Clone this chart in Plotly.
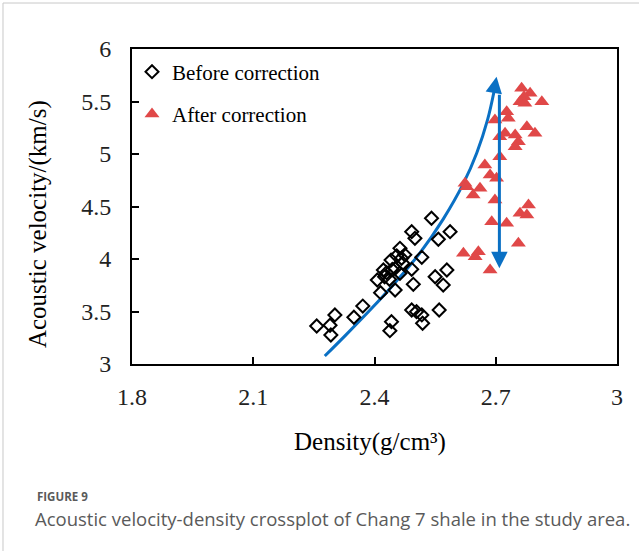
import plotly.graph_objects as go

# ---------------- data ----------------
before_density = [2.257, 2.290, 2.302, 2.292, 2.349, 2.371, 2.415, 2.407, 2.422, 2.441,
                  2.451, 2.463, 2.467, 2.463, 2.451, 2.437, 2.492, 2.500, 2.517, 2.492,
                  2.496, 2.541, 2.558, 2.587, 2.550, 2.579, 2.570, 2.560, 2.492, 2.504,
                  2.517, 2.519, 2.442, 2.438, 2.430, 2.425, 2.455, 2.470, 2.444, 2.475]
before_velocity = [3.362, 3.369, 3.467, 3.276, 3.445, 3.552, 3.679, 3.800, 3.895, 3.990,
                   3.911, 4.102, 4.007, 3.864, 3.705, 3.807, 4.260, 4.197, 4.016, 3.902,
                   3.759, 4.388, 4.188, 4.260, 3.831, 3.895, 3.752, 3.514, 3.514, 3.498,
                   3.467, 3.388, 3.403, 3.317, 3.870, 3.830, 4.030, 3.960, 3.900, 4.040]

after_density = [2.764, 2.785, 2.770, 2.760, 2.814, 2.772, 2.727, 2.698, 2.731, 2.777,
                 2.797, 2.723, 2.748, 2.756, 2.748, 2.710, 2.710, 2.673, 2.686, 2.702,
                 2.624, 2.628, 2.661, 2.644, 2.698, 2.781, 2.760, 2.777, 2.690, 2.727,
                 2.756, 2.620, 2.649, 2.657, 2.686]
after_velocity = [5.626, 5.578, 5.546, 5.498, 5.498, 5.483, 5.403, 5.324, 5.340, 5.260,
                  5.197, 5.197, 5.181, 5.117, 5.070, 5.165, 4.974, 4.895, 4.800, 4.769,
                  4.721, 4.689, 4.673, 4.610, 4.562, 4.514, 4.435, 4.419, 4.355, 4.340,
                  4.150, 4.054, 4.022, 4.070, 3.895]

# trend curve (blue arrow) and correction arrow
curve_density = [2.277, 2.330, 2.389, 2.450, 2.513, 2.570, 2.620, 2.653, 2.680, 2.696]
curve_velocity = [3.076, 3.280, 3.514, 3.770, 4.060, 4.380, 4.720, 5.010, 5.330, 5.600]
curve_tip = (2.702, 5.736)
shift_arrow_density = 2.709
shift_arrow_from = 5.578
shift_arrow_to = 3.911

x_tickvals = [1.8, 2.1, 2.4, 2.7, 3.0]
x_ticktext = ["1.8", "2.1", "2.4", "2.7", "3"]
y_tickvals = [3, 3.5, 4, 4.5, 5, 5.5, 6]
y_ticktext = ["3", "3.5", "4", "4.5", "5", "5.5", "6"]

labels = ["Before correction", "After correction"]
x_title = "Density(g/cm³)"
y_title = "Acoustic velocity/(km/s)"
fig_label = "FIGURE 9"
caption = "Acoustic velocity-density crossplot of Chang 7 shale in the study area."

# ---------------- style ----------------
BLUE = "#0A70C4"
RED = "#E04848"
SERIF = "Liberation Serif"

fig = go.Figure()

fig.add_trace(go.Scatter(
    x=curve_density, y=curve_velocity, mode="lines",
    line=dict(color=BLUE, width=3, shape="spline", smoothing=1.0),
    showlegend=False, hoverinfo="skip"))

fig.add_trace(go.Scatter(
    x=before_density, y=before_velocity, mode="markers", name=labels[0],
    marker=dict(symbol="diamond-open", size=10, color="black", line=dict(width=2, color="black")),
    legendgroup="a"))

fig.add_trace(go.Scatter(
    x=after_density, y=after_velocity, mode="markers", name=labels[1],
    marker=dict(symbol="triangle-up", size=13, color=RED, line=dict(width=0)),
    legendgroup="b"))

# arrowheads
fig.add_annotation(x=curve_tip[0], y=curve_tip[1], ax=curve_density[-1], ay=curve_velocity[-1],
                   xref="x", yref="y", axref="x", ayref="y", text="", showarrow=True,
                   arrowhead=2, arrowsize=1.1, arrowwidth=3, arrowcolor=BLUE)
fig.add_annotation(x=shift_arrow_density, y=shift_arrow_to, ax=shift_arrow_density, ay=shift_arrow_from,
                   xref="x", yref="y", axref="x", ayref="y", text="", showarrow=True,
                   arrowhead=2, arrowsize=1.1, arrowwidth=3, arrowcolor=BLUE)

# axis titles
fig.add_annotation(text=x_title, xref="paper", yref="paper", x=0.491, y=-0.248,
                   showarrow=False, font=dict(family=SERIF, size=25, color="black"),
                   xanchor="center", yanchor="middle")
fig.add_annotation(text=y_title, xref="paper", yref="paper", x=-0.194, y=0.444, textangle=-90,
                   showarrow=False, font=dict(family=SERIF, size=25, color="black"),
                   xanchor="center", yanchor="middle")

# caption
fig.add_annotation(text="<b>" + fig_label + "</b>", xref="paper", yref="paper", x=-0.201, y=-0.420,
                   showarrow=False, font=dict(family="Open Sans", size=11.5, color="#5a5a5a"),
                   xanchor="left", yanchor="middle")
fig.add_annotation(text=caption, xref="paper", yref="paper", x=-0.205, y=-0.490,
                   showarrow=False, font=dict(family="Open Sans", size=18.5, color="#5a5a5a"),
                   xanchor="left", yanchor="middle")

# card border (left + top)
fig.add_shape(type="line", xref="paper", yref="paper", x0=-0.266, x1=1.2, y0=1.146, y1=1.146,
              line=dict(color="#C8C8C8", width=1))
fig.add_shape(type="line", xref="paper", yref="paper", x0=-0.266, x1=-0.266, y0=1.146, y1=-0.7,
              line=dict(color="#C8C8C8", width=1))

axis_common = dict(showgrid=False, zeroline=False, showline=True, linecolor="black", linewidth=2,
                   mirror=True, ticks="inside", ticklen=7, tickwidth=1.5, tickcolor="black",
                   tickfont=dict(family=SERIF, size=24, color="#222222"))

fig.update_xaxes(range=[1.8, 3.0], tickvals=x_tickvals, ticktext=x_ticktext,
                 ticklabelstandoff=10, **axis_common)
fig.update_yaxes(range=[3, 6], tickvals=y_tickvals, ticktext=y_ticktext,
                 ticklabelstandoff=14, **axis_common)

fig.update_layout(
    width=639, height=551,
    margin=dict(l=132, r=22, t=49, b=187),
    plot_bgcolor="white", paper_bgcolor="white",
    legend=dict(x=0.0, y=0.992, xanchor="left", yanchor="top", bgcolor="rgba(0,0,0,0)",
                font=dict(family=SERIF, size=21, color="black"), tracegroupgap=12,
                itemsizing="trace"),
    font=dict(family=SERIF),
)

fig.write_html("out.html")
